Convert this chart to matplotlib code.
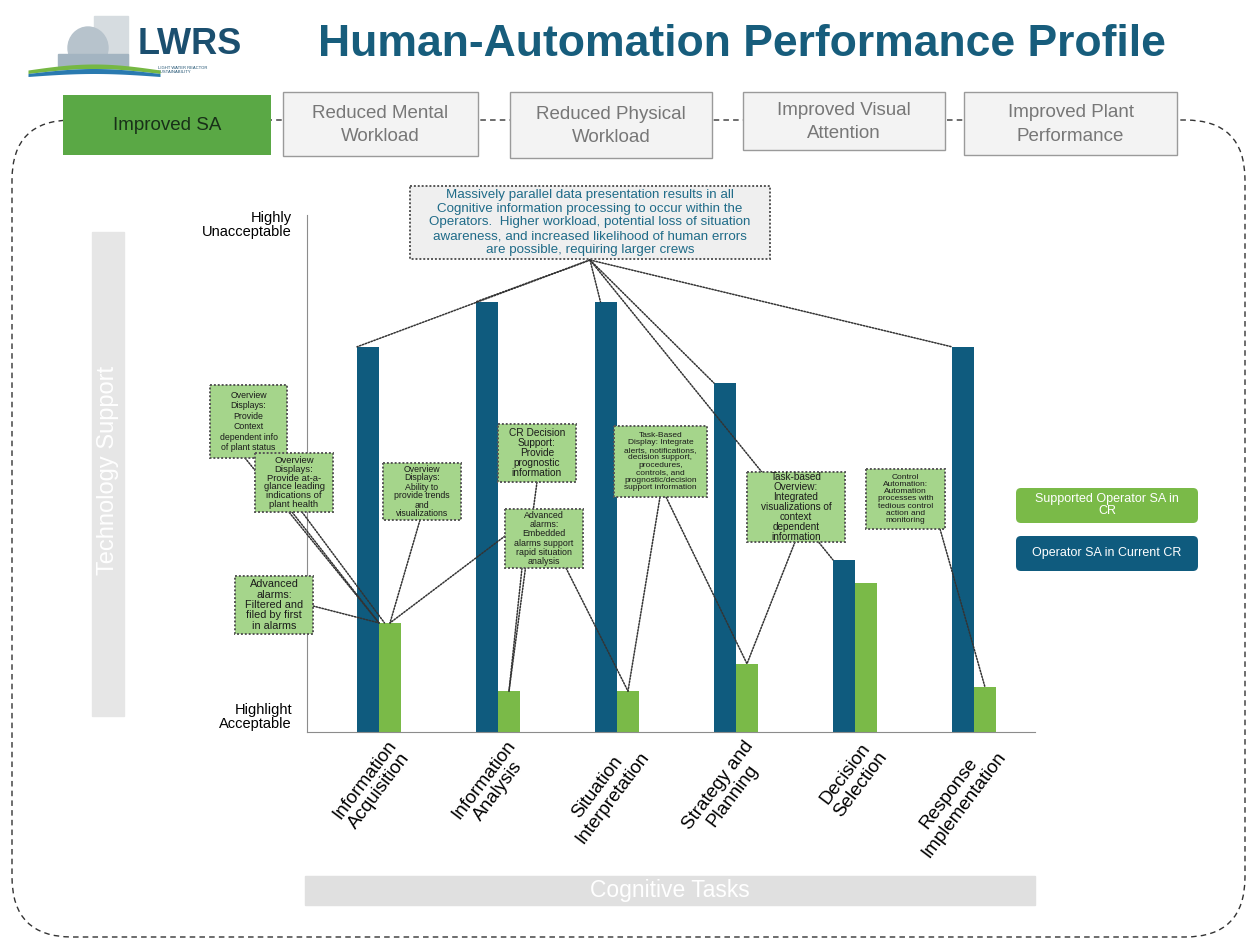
import matplotlib

matplotlib.use("Agg")
import matplotlib.pyplot as plt
import numpy as np
from matplotlib.patches import FancyBboxPatch, Rectangle, ConnectionPatch, Ellipse

plt.rcParams["font.family"] = ["Liberation Sans", "DejaVu Sans"]

BLUE = "#0f5b7e"
GREEN = "#7aba48"
NOTE = "#a5d58b"
TITLE = "#175d7c"

# data
categories = [
    "Information\nAcquisition",
    "Information\nAnalysis",
    "Situation\nInterpretation",
    "Strategy and\nPlanning",
    "Decision\nSelection",
    "Response\nImplementation",
]
current_cr = [74.5, 83.2, 83.2, 67.5, 33.3, 74.5]
supported_cr = [21.1, 7.9, 7.9, 13.2, 28.8, 8.7]
series_names = ["Supported Operator SA in\nCR", "Operator SA in Current CR"]
tabs = [
    "Improved SA",
    "Reduced Mental\nWorkload",
    "Reduced Physical\nWorkload",
    "Improved Visual\nAttention",
    "Improved Plant\nPerformance",
]

W, H = 1254, 942
fig = plt.figure(figsize=(W / 100, H / 100), dpi=100)

# background layer in pixel coords
bg = fig.add_axes([0, 0, 1, 1])
bg.set_xlim(0, W)
bg.set_ylim(H, 0)
bg.axis("off")

# chart axes: x 307..1035 px, y 215..732 px
ax = fig.add_axes([307 / W, (H - 732) / H, (1035 - 307) / W, (732 - 215) / H])
ax.patch.set_alpha(0)

# overlay for notes and connectors
fg = fig.add_axes([0, 0, 1, 1])
fg.set_xlim(0, W)
fg.set_ylim(H, 0)
fg.axis("off")
fg.patch.set_alpha(0)

# --- logo ---
bg.add_patch(Rectangle((94, 16), 34, 50, color="#d6dce0", zorder=1))
bg.add_patch(Ellipse((88, 48), 40, 42, color="#b7c3cc", zorder=2))
bg.add_patch(Rectangle((58, 54), 70, 12, color="#a3b4c1", zorder=3))
xs = np.linspace(28, 160, 60)
arc = np.sin((xs - 28) / 132 * np.pi)
bg.fill_between(xs, 70 - 6 * arc, 73.5 - 5 * arc, color="#76b843", zorder=4, lw=0)
bg.fill_between(xs, 73.5 - 5 * arc, 76.5 - 3 * arc, color="#2a7ab0", zorder=4, lw=0)
bg.text(138, 45, "LWRS", fontsize=26, fontweight="bold", color="#1b4f6f", va="center", ha="left")
bg.text(158, 70, "LIGHT WATER REACTOR\nSUSTAINABILITY", fontsize=3, color="#1b4f6f",
        va="center", ha="left", linespacing=1.0)

# --- title ---
bg.text(742, 45, "Human-Automation Performance Profile", fontsize=32, fontweight="bold",
        color=TITLE, ha="center", va="center")

# --- dashed rounded outline ---
bg.add_patch(FancyBboxPatch((12, 120), 1233, 817, boxstyle="round,pad=0,rounding_size=60",
                            fill=False, ec="#333333", lw=1.0, ls=(0, (4, 3)), zorder=1))

# --- tabs ---
tab_boxes = [(63, 95, 208, 60), (283, 92, 195, 64), (510, 92, 202, 66),
             (743, 92, 202, 58), (964, 92, 213, 63)]
for i, (label, (tx, ty, tw, th)) in enumerate(zip(tabs, tab_boxes)):
    if i == 0:
        bg.add_patch(Rectangle((tx, ty), tw, th, fc="#5aa845", ec="none", zorder=3))
        bg.text(tx + tw / 2, ty + th / 2, label, fontsize=13.5, color="#183018",
                ha="center", va="center", zorder=4)
    else:
        bg.add_patch(Rectangle((tx, ty), tw, th, fc="#f3f3f3", ec="#9a9a9a", lw=1.0, zorder=3))
        bg.text(tx + tw / 2, ty + th / 2 + 1, label, fontsize=13.5, color="#777777",
                ha="center", va="center", linespacing=1.5, zorder=4)

# --- side bars ---
bg.add_patch(Rectangle((92, 232), 32, 484, color="#e6e6e6", zorder=1))
bg.text(108, 470, "Technology Support", rotation=90, fontsize=17, color="white",
        ha="center", va="center", zorder=2)
bg.add_patch(Rectangle((305, 876), 730, 29, color="#e0e0e0", zorder=1))
bg.text(670, 891, "Cognitive Tasks", fontsize=16.5, color="white", ha="center", va="center", zorder=2)

# --- bars ---
x = np.arange(len(categories))
bw = 0.185
ax.bar(x - bw / 2, current_cr, bw, color=BLUE, zorder=2)
ax.bar(x + bw / 2, supported_cr, bw, color=GREEN, zorder=2)
ax.set_xlim(-0.605, 5.513)
ax.set_ylim(0, 100)
for s in ("top", "right"):
    ax.spines[s].set_visible(False)
ax.spines["left"].set_color("#8c8c8c")
ax.spines["bottom"].set_color("#8c8c8c")
ax.set_yticks([])
ax.set_xticks(x + 0.06)
ax.set_xticklabels(categories, rotation=53, ha="right", va="top", rotation_mode="anchor",
                   fontsize=13.5, multialignment="center", linespacing=1.1)
ax.tick_params(axis="x", length=0, pad=4)

bg.text(292, 225, "Highly\nUnacceptable", fontsize=10.5, ha="right", va="center", linespacing=1.0)
bg.text(292, 717, "Highlight\nAcceptable", fontsize=10.5, ha="right", va="center", linespacing=1.0)

# --- legend ---
bg.add_patch(FancyBboxPatch((1016, 488), 182, 35, boxstyle="round,pad=0,rounding_size=5",
                            fc=GREEN, ec="none", zorder=2))
bg.text(1107, 505, series_names[0], fontsize=9, color="white", ha="center", va="center",
        linespacing=0.95, zorder=3)
bg.add_patch(FancyBboxPatch((1016, 536), 182, 35, boxstyle="round,pad=0,rounding_size=5",
                            fc=BLUE, ec="none", zorder=2))
bg.text(1107, 553, series_names[1], fontsize=9, color="white", ha="center", va="center", zorder=3)

# --- notes ---
notes = [
    ((410, 186, 360, 73), "Massively parallel data presentation results in all\nCognitive information processing to occur within the\n"
     "Operators.  Higher workload, potential loss of situation\nawareness, and increased likelihood of human errors\n"
     "are possible, requiring larger crews", 9.6, "#efefef", "#1f6b88", 1.2),
    ((210, 385, 77, 73), "Overview\nDisplays:\nProvide\nContext\ndependent info\nof plant status", 6.3, NOTE, "#1b1b1b", 1.2),
    ((255, 453, 78, 59), "Overview\nDisplays:\nProvide at-a-\nglance leading\nindications of\nplant health", 6.8, NOTE, "#1b1b1b", 0.98),
    ((383, 463, 78, 57), "Overview\nDisplays:\nAbility to\nprovide trends\nand\nvisualizations", 6.3, NOTE, "#1b1b1b", 1.0),
    ((235, 576, 78, 58), "Advanced\nalarms:\nFiltered and\nfiled by first\nin alarms", 7.8, NOTE, "#1b1b1b", 1.05),
    ((498, 424, 78, 58), "CR Decision\nSupport:\nProvide\nprognostic\ninformation", 7.3, NOTE, "#1b1b1b", 1.02),
    ((505, 509, 78, 59), "Advanced\nalarms:\nEmbedded\nalarms support\nrapid situation\nanalysis", 6.4, NOTE, "#1b1b1b", 1.02),
    ((614, 426, 93, 71), "Task-Based\nDisplay: Integrate\nalerts, notifications,\ndecision support,\nprocedures,\ncontrols, and\n"
     "prognostic/decision\nsupport information", 6.0, NOTE, "#1b1b1b", 1.08),
    ((747, 472, 98, 70), "Task-based\nOverview:\nIntegrated\nvisualizations of\ncontext\ndependent\ninformation", 7.2, NOTE, "#1b1b1b", 1.0),
    ((866, 469, 79, 60), "Control\nAutomation:\nAutomation\nprocesses with\ntedious control\naction and\nmonitoring", 6.0, NOTE, "#1b1b1b", 1.05),
]
for (nx, ny, nw, nh), txt, fs, fc, tc, lsp in notes:
    fg.add_patch(Rectangle((nx, ny), nw, nh, fc=fc, ec="#555555", lw=1.4, ls=(0, (1, 1)), zorder=3))
    fg.text(nx + nw / 2, ny + nh / 2, txt, fontsize=fs, color=tc, ha="center", va="center",
            linespacing=lsp, zorder=4)

# connectors: (start px, category index, series, offset from bar centre)
blue_off, green_off = -bw / 2, bw / 2
links = [
    ((590, 260), 0, "blue", -bw / 2), ((590, 260), 1, "blue", -bw / 2),
    ((590, 260), 2, "blue", -bw / 4), ((590, 260), 3, "blue", -bw / 2),
    ((590, 260), 4, "blue", -bw / 2), ((590, 260), 5, "blue", -bw / 2),
    ((245, 458), 0, "green", -bw / 2), ((292, 512), 0, "green", -bw / 2),
    ((302, 512), 0, "green", -bw / 4), ((420, 520), 0, "green", 0),
    ((313, 606), 0, "green", -bw / 2), ((505, 536), 0, "green", 0),
    ((537, 482), 1, "green", 0), ((522, 568), 1, "green", 0),
    ((566, 568), 2, "green", 0), ((660, 497), 2, "green", 0),
    ((666, 497), 3, "green", 0), ((795, 542), 3, "green", 0),
    ((940, 529), 5, "green", 0),
]
for (sx, sy), ci, ser, off in links:
    if ser == "blue":
        pt = (x[ci] + blue_off + off, current_cr[ci])
    else:
        pt = (x[ci] + green_off + off, supported_cr[ci])
    con = ConnectionPatch(xyA=(sx, sy), coordsA=fg.transData, xyB=pt, coordsB=ax.transData,
                          color="#333333", lw=1.1, ls=(0, (1, 1)), zorder=2)
    fg.add_artist(con)

fig.savefig("out.png", dpi=100)
